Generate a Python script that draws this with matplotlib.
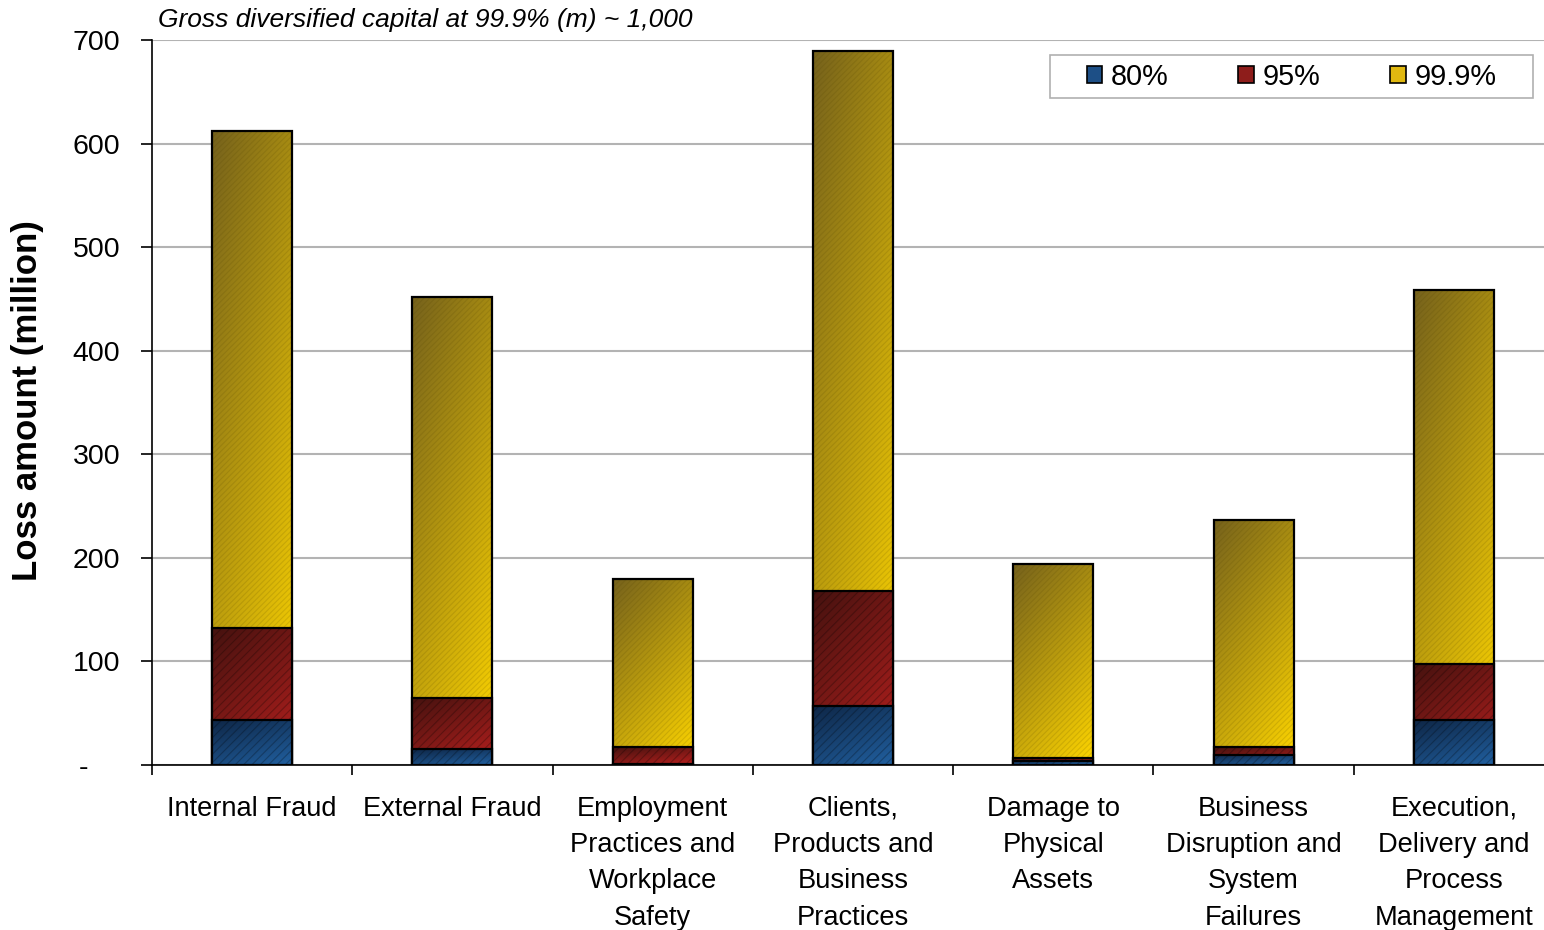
import numpy as np
import matplotlib
matplotlib.use('Agg')
import matplotlib.pyplot as plt
from matplotlib.patches import Rectangle, Patch
from matplotlib.ticker import FixedLocator

plt.rcParams['font.family'] = ['Liberation Sans', 'DejaVu Sans']
plt.rcParams['hatch.linewidth'] = 0.8

categories = ['Internal Fraud', 'External Fraud',
              'Employment\nPractices and\nWorkplace\nSafety',
              'Clients,\nProducts and\nBusiness\nPractices',
              'Damage to\nPhysical\nAssets',
              'Business\nDisruption and\nSystem\nFailures',
              'Execution,\nDelivery and\nProcess\nManagement']
q80 = [43, 15, 1, 57, 4, 10, 43]
q95 = [132, 65, 17, 168, 7, 17, 98]
q999 = [612, 452, 180, 689, 194, 237, 459]
series_names = ['80%', '95%', '99.9%']
yticks = [0, 100, 200, 300, 400, 500, 600, 700]
yticklabels = ['-    ', '100', '200', '300', '400', '500', '600', '700']

# (dark top-left, bright bottom-right)
grads = {
    '80%': ('#0e2646', '#2160a0'),
    '95%': ('#45120f', '#b8201e'),
    '99.9%': ('#76621c', '#ffd600'),
}
solid = {'80%': '#1d4f86', '95%': '#8e1d1b', '99.9%': '#e0b810'}

fig = plt.figure(figsize=(15.44, 9.3), dpi=100)
ax = fig.add_axes([152 / 1544, 1 - 765 / 930, 1402 / 1544, 725 / 930])

w = 0.40
x = np.arange(len(categories))


def grad_bar(xc, h, name, z):
    c0 = np.array(matplotlib.colors.to_rgb(grads[name][0]))
    c1 = np.array(matplotlib.colors.to_rgb(grads[name][1]))
    U, V = np.meshgrid(np.linspace(0, 1, 30), np.linspace(0, 1, 200))
    g = 0.35 * U + 0.65 * V
    img = c0 + (c1 - c0) * g[..., None]
    rect = Rectangle((xc - w / 2, 0), w, h, facecolor='none', edgecolor='none')
    ax.add_patch(rect)
    im = ax.imshow(img, extent=(xc - w / 2, xc + w / 2, 0, h), origin='upper',
                   aspect='auto', zorder=z, interpolation='bilinear')
    im.set_clip_path(rect)
    # texture
    hat = '////' if name != '99.9%' else '//////'
    hc = (0, 0, 0, 0.25) if name != '99.9%' else (0.3, 0.25, 0, 0.15)
    ax.add_patch(Rectangle((xc - w / 2, 0), w, h, facecolor='none',
                           edgecolor=hc, linewidth=0, hatch=hat, zorder=z + 0.1))
    ax.add_patch(Rectangle((xc - w / 2, 0), w, h, facecolor='none',
                           edgecolor='black', linewidth=1.6, zorder=z + 0.2))


for i in range(len(categories)):
    grad_bar(x[i], q999[i], '99.9%', 2)
    grad_bar(x[i], q95[i], '95%', 3)
    grad_bar(x[i], q80[i], '80%', 4)

ax.set_xlim(-0.5, len(categories) - 0.5)
ax.set_ylim(0, 700)

ax.set_yticks(yticks)
ax.set_yticklabels(yticklabels, fontsize=20.5)
ax.tick_params(axis='y', direction='out', length=8, width=1.2, pad=15)
ax.yaxis.grid(True, color='#b3b3b3', linewidth=1.5, zorder=0)
ax.set_axisbelow(True)

ax.set_xticks(x)
ax.set_xticklabels(categories, fontsize=19.6, linespacing=1.52, va='top')
ax.tick_params(axis='x', which='major', length=0, pad=22)
ax.xaxis.set_minor_locator(FixedLocator(np.arange(-0.5, len(categories), 1.0)))
ax.tick_params(axis='x', which='minor', direction='out', length=7, width=1.2)

for s in ['top', 'right']:
    ax.spines[s].set_visible(False)
ax.spines['left'].set_linewidth(1.2)
ax.spines['bottom'].set_linewidth(1.2)

# legend box drawn by hand (wider side padding than vertical)
lx0, lx1 = (1050 - 152) / 1402, (1533 - 152) / 1402
ly1, ly0 = 1 - (55 - 40) / 725, 1 - (98 - 40) / 725
ax.add_patch(Rectangle((lx0, ly0), lx1 - lx0, ly1 - ly0, transform=ax.transAxes,
                       facecolor='white', edgecolor='#b0b0b0', linewidth=1.2,
                       zorder=10, clip_on=False))
handles = [Patch(facecolor=solid[n], edgecolor='black', linewidth=1.2) for n in series_names]
leg = ax.legend(handles, series_names, loc='center',
                bbox_to_anchor=((lx0 + lx1) / 2, (ly0 + ly1) / 2),
                ncol=3, fontsize=20.8, frameon=False, borderaxespad=0, borderpad=0,
                handlelength=0.55, handleheight=0.55, handletextpad=0.3,
                columnspacing=2.4)
leg.set_zorder(11)

fig.text(28 / 1544, 1 - 401 / 930, 'Loss amount (million)', rotation=90,
         fontsize=25, fontweight='bold', ha='center', va='center')
fig.text(158 / 1544, 1 - 20 / 930, 'Gross diversified capital at 99.9% (m) ~ 1,000',
         fontsize=19, fontstyle='italic', ha='left', va='center')

fig.savefig('out.png', dpi=100)
